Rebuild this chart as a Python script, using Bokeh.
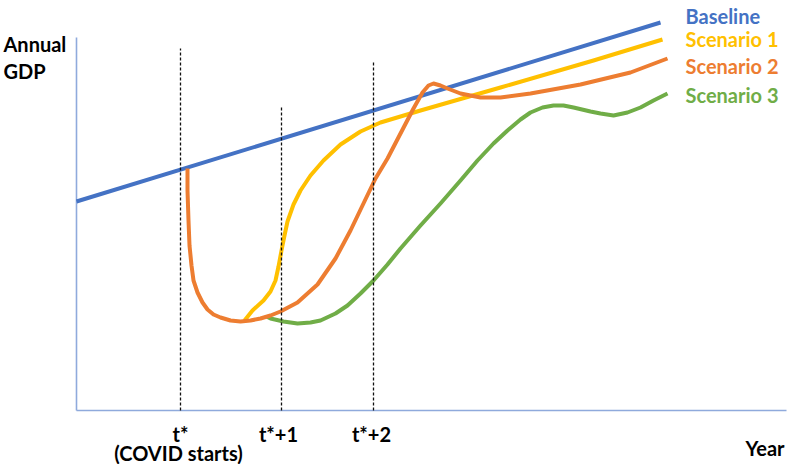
from bokeh.plotting import figure
from bokeh.models import Range1d
from bokeh.core.properties import value
from bokeh.embed import file_html
from bokeh.resources import INLINE

# ---- data (time index, GDP index; arbitrary units, origin at the axes corner) ----
base_t = [0, 584]
base_g = [209, 388]

s1_t = [168, 176, 187, 194, 199, 202, 205, 208, 211, 217, 224, 234, 247, 264, 284, 304, 344, 424, 517, 586]
s1_g = [90, 100, 110, 119, 130, 144, 160, 175, 189, 206, 220, 235, 250, 266, 279, 288, 300, 323, 350, 371]

s2_t = [111, 111, 112, 113, 115, 117, 121, 126, 131, 137, 144, 154, 164, 174, 184, 194, 204, 221, 241, 259,
        274, 286, 299, 311, 324, 337, 346, 352, 357, 364, 371, 384, 404, 424, 454, 504, 554, 591]
s2_g = [242, 220, 190, 165, 145, 130, 118, 108, 101, 96, 93, 90, 89, 90, 92, 95, 99, 108, 126, 152,
        180, 205, 232, 252, 277, 302, 318, 325, 327, 325, 322, 317, 313, 313, 317, 326, 338, 352]

s3_t = [190, 194, 207, 221, 234, 244, 259, 271, 284, 297, 311, 324, 344, 364, 384, 401, 417, 431, 444, 454,
        466, 477, 487, 497, 514, 524, 537, 551, 564, 577, 591]
s3_g = [94, 92, 89, 87, 88, 90, 97, 105, 117, 130, 146, 162, 185, 207, 230, 250, 267, 280, 291, 298,
        303, 305, 305, 303, 299, 297, 295, 298, 303, 310, 317]

tick_t = [104, 205, 297]          # t*, t*+1, t*+2
tick_top = [362, 305, 348]
tick_labels = ["t*", "t*+1", "t*+2"]
tick_label_t = [104, 202, 295]

series_names = ["Baseline", "Scenario 1", "Scenario 2", "Scenario 3"]
series_colors = ["#4472C4", "#FFC000", "#ED7D31", "#70AD47"]
legend_g = [395, 372, 345, 316]

FONT = value("Lato")
FS = "20px"

p = figure(width=787, height=464, output_backend="svg", toolbar_location=None,
           x_range=Range1d(-76, 711), y_range=Range1d(-54, 410), min_border=0)
p.axis.visible = False
p.grid.visible = False
p.outline_line_color = None
p.background_fill_color = "white"
p.border_fill_color = "white"

# axes lines
axis_col = "#8FAADC"
p.line([0, 0], [0, 373], line_color=axis_col, line_width=1.6)
p.line([0, 710], [0, 0], line_color=axis_col, line_width=1.6)

# curves
p.line(base_t, base_g, line_color=series_colors[0], line_width=4, line_join="round", line_cap="butt")
p.line(s3_t, s3_g, line_color=series_colors[3], line_width=4, line_join="round")
p.line(s1_t, s1_g, line_color=series_colors[1], line_width=4, line_join="round")
p.line(s2_t, s2_g, line_color=series_colors[2], line_width=4, line_join="round")

# dashed verticals
p.segment(x0=tick_t, y0=[0, 0, 0], x1=tick_t, y1=tick_top, line_color="#111111",
          line_width=1.3, line_dash="3 2")

# texts
p.text(x=[-73, -73], y=[367, 340], text=["Annual", "GDP"], text_font=FONT, text_font_style="bold",
       text_font_size=FS, text_color="black", text_align="left", text_baseline="alphabetic")
p.text(x=tick_label_t, y=[-23, -23, -23], text=tick_labels, text_font=FONT, text_font_style="bold",
       text_font_size=FS, text_color="black", text_align="center", text_baseline="alphabetic")
p.text(x=[102], y=[-42], text=["(COVID starts)"], text_font=FONT, text_font_style="bold",
       text_font_size=FS, text_color="black", text_align="center", text_baseline="alphabetic")
p.text(x=[708], y=[-37], text=["Year"], text_font=FONT, text_font_style="bold",
       text_font_size=FS, text_color="black", text_align="right", text_baseline="alphabetic")
p.text(x=[609] * 4, y=legend_g, text=series_names, text_font=FONT, text_font_style="bold",
       text_font_size=FS, text_color=series_colors, text_align="left", text_baseline="alphabetic")

open("out.html", "w").write(file_html(p, INLINE))
